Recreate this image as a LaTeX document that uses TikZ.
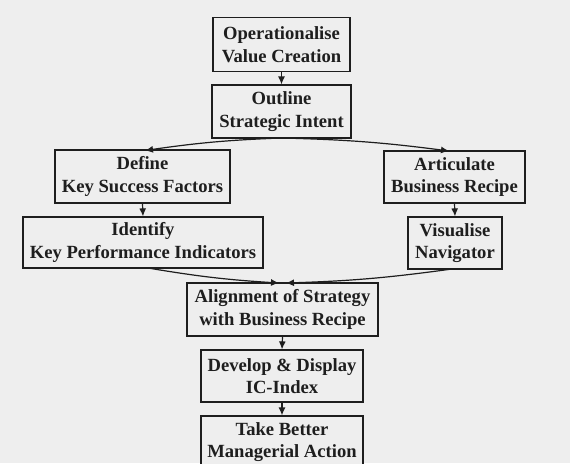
\documentclass[tikz,border=0pt]{standalone}
\usepackage{fontspec}
\setmainfont{Liberation Serif}
\usetikzlibrary{arrows.meta}
\definecolor{bg}{HTML}{EEEEEE}
\definecolor{ink}{HTML}{1E1E1E}
\begin{document}
\begin{tikzpicture}[x=1pt,y=-1pt,
  stepbox/.style={draw=ink, line width=1.2pt, fill=bg, align=center, inner sep=0pt,
    text=ink, font=\bfseries\fontsize{18.6}{22.5}\selectfont},
  arr/.style={draw=ink, line width=1.2pt, -{Latex[length=8pt,width=7pt]}}]
\fill[bg] (0,0) rectangle (570,463);
\useasboundingbox (0,0) rectangle (570,463);
\node[stepbox, minimum width=137pt, minimum height=54pt] (n1) at (281.5,44.5) {Operationalise\\Value Creation};
\node[stepbox, minimum width=139pt, minimum height=53pt] (n2) at (281.5,111.5) {Outline\\Strategic Intent};
\node[stepbox, minimum width=175pt, minimum height=53pt] (n3) at (142.5,176.5) {Define\\Key Success Factors};
\node[stepbox, minimum width=240pt, minimum height=51pt] (n4) at (143,242.5) {Identify\\Key Performance Indicators};
\node[stepbox, minimum width=141pt, minimum height=52pt] (n5) at (454.5,177) {Articulate\\Business Recipe};
\node[stepbox, minimum width=94pt, minimum height=52pt] (n6) at (455,243) {Visualise\\Navigator};
\node[stepbox, minimum width=191pt, minimum height=53pt] (n7) at (282.5,309.5) {Alignment of Strategy\\with Business Recipe};
\node[stepbox, minimum width=162pt, minimum height=52pt] (n8) at (282,376) {Develop \& Display\\IC-Index};
\node[stepbox, minimum width=162pt, minimum height=52pt] (n9) at (282,442) {Take Better\\Managerial Action};
\coordinate (b2) at (281,138);
\coordinate (t3) at (145,150.5);
\coordinate (t5) at (449,151);
\coordinate (b4) at (148,268);
\coordinate (b6) at (452,269);
\coordinate (t7l) at (279,283);
\coordinate (t7r) at (286,283);
\draw[arr] (n1.south) -- (n2.north);
\draw[arr] (b2) to[bend right=3] (t3);
\draw[arr] (b2) to[bend left=3] (t5);
\draw[arr] (n3.south) -- (n4.north);
\draw[arr] (n5.south) -- (n6.north);
\draw[arr] (b4) to[bend right=3] (t7l);
\draw[arr] (b6) to[bend left=3] (t7r);
\draw[arr] (n7.south) -- (n8.north);
\draw[arr] (n8.south) -- (n9.north);
\end{tikzpicture}
\end{document}
